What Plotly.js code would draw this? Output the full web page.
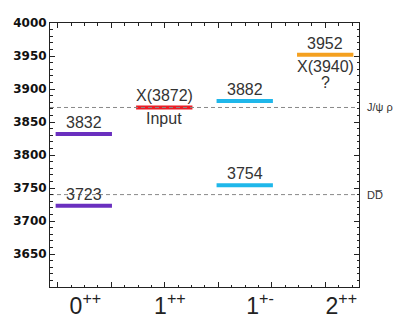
<!DOCTYPE html>
<html>
<head>
<meta charset="utf-8">
<script src="https://cdn.plot.ly/plotly-3.0.1.min.js"></script>
<style>html,body{margin:0;padding:0;background:#fff;}#chart{width:414px;height:329px;}</style>
</head>
<body>
<div id="chart"></div>
<script>
// ---- data ----
const categories = ["0<sup>++</sup>", "1<sup>++</sup>", "1<sup>+-</sup>", "2<sup>++</sup>"];
const levelCat   = [0, 0, 1, 2, 2, 3];
const levelMass  = [3723, 3832, 3872, 3754, 3882, 3952];
const levelText  = ["3723", "3832", "X(3872)", "3754", "3882", "3952"];
const levelColor = ["#6a2fbf", "#6a2fbf", "#ec1c24", "#1fb7ea", "#1fb7ea", "#f4a020"];
const belowText  = ["", "", "Input", "", "", "X(3940)"];
const belowText2 = ["", "", "", "", "", "?"];
const thresholdMass = [3872, 3740];
const thresholdName = ["J/\u03C8 \u03C1", "DD\u0305"];
const yTicks = [3650, 3700, 3750, 3800, 3850, 3900, 3950, 4000];

// ---- layout constants ----
const halfW = 0.35;
const xRange = [-0.42, 3.42];
const labelX = [0.02, 1.07, 2.19, 3.2];
const txtFont = {family: 'Liberation Sans, Arial', size: 16, color: '#333'};

const traces = [];
levelMass.forEach((m, i) => {
  const c = levelCat[i];
  traces.push({
    x: [c - halfW, c + halfW], y: [m, m], mode: 'lines', type: 'scatter',
    line: {color: levelColor[i], width: 4}, hoverinfo: 'skip', showlegend: false
  });
});
thresholdMass.forEach((m) => {
  traces.push({
    x: [xRange[0], xRange[1] - 0.05], y: [m, m], mode: 'lines', type: 'scatter',
    line: {color: '#888', width: 1, dash: '4px,3px'}, hoverinfo: 'skip', showlegend: false
  });
});
// invisible trace for the label axis
traces.push({x: labelX, y: [3600,3600,3600,3600], xaxis: 'x2', mode: 'markers',
  marker: {opacity: 0}, hoverinfo: 'skip', showlegend: false});

const annotations = [];
levelMass.forEach((m, i) => {
  annotations.push({x: levelCat[i], y: m, text: levelText[i], showarrow: false,
    yanchor: 'bottom', yshift: 1, font: txtFont});
  if (belowText[i]) {
    annotations.push({x: levelCat[i], y: m, text: belowText[i], showarrow: false,
      yanchor: 'top', yshift: -1, font: txtFont});
  }
  if (belowText2[i]) {
    annotations.push({x: levelCat[i], y: m, text: belowText2[i], showarrow: false,
      yanchor: 'top', yshift: -17, font: txtFont});
  }
});
thresholdMass.forEach((m, i) => {
  annotations.push({x: 1, xref: 'paper', xanchor: 'left', xshift: 6, y: m, yanchor: 'middle',
    text: thresholdName[i], showarrow: false,
    font: {family: 'Liberation Sans, Arial', size: 11, color: '#333'}});
});

const layout = {
  width: 414, height: 329,
  margin: {l: 50, r: 55, t: 23, b: 42},
  paper_bgcolor: '#fff', plot_bgcolor: '#fff',
  showlegend: false,
  xaxis: {
    range: xRange, showgrid: false, zeroline: false,
    showline: true, linecolor: '#222', linewidth: 1, mirror: 'ticks',
    ticks: 'inside', ticklen: 5, tickcolor: '#222', tickwidth: 1,
    tick0: -0.323, dtick: 0.665, showticklabels: false,
    minor: {dtick: 0.16625, tick0: -0.323, ticks: 'inside', ticklen: 2.5, tickcolor: '#222', showgrid: false}
  },
  xaxis2: {
    overlaying: 'x', side: 'bottom', range: xRange, showgrid: false, zeroline: false,
    showline: false, ticks: '', tickmode: 'array', tickvals: labelX, ticktext: categories,
    ticklabelstandoff: 3,
    tickfont: {family: 'Liberation Sans, Arial', size: 23, color: '#222'}
  },
  yaxis: {
    range: [3600, 4000], showgrid: false, zeroline: false,
    showline: true, linecolor: '#222', linewidth: 1, mirror: 'ticks',
    ticks: 'inside', ticklen: 5, tickcolor: '#222', tickwidth: 1,
    tickmode: 'array', tickvals: yTicks, ticktext: yTicks.map(String),
    tickfont: {family: 'DejaVu Sans', size: 12, color: '#111', weight: 'bold'},
    minor: {dtick: 10, tick0: 3600, ticks: 'inside', ticklen: 2.5, tickcolor: '#222', showgrid: false}
  },
  annotations: annotations
};

Plotly.newPlot('chart', traces, layout, {staticPlot: true, displayModeBar: false});
</script>
</body>
</html>
